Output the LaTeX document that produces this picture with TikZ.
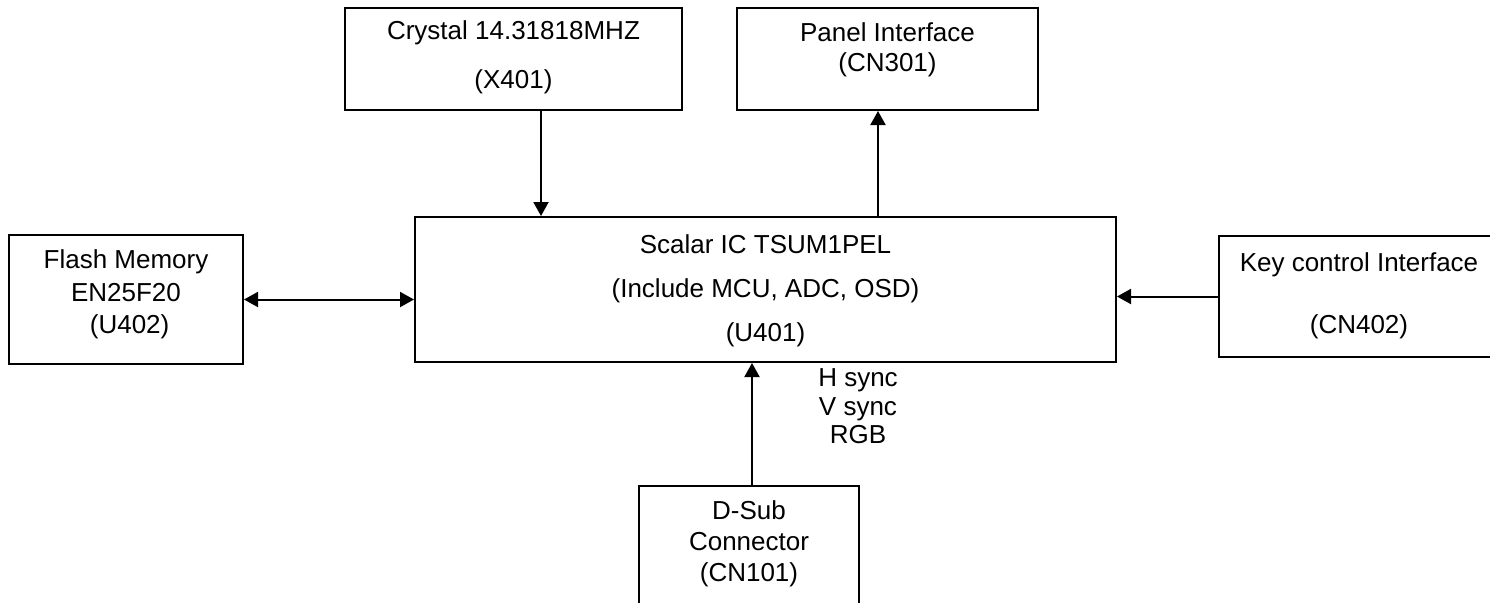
\documentclass[tikz,border=0pt]{standalone}
\usepackage{fontspec}
\setmainfont{Liberation Sans}
\usetikzlibrary{arrows.meta}

\begin{document}
\begin{tikzpicture}[x=0.5pt,y=-0.5pt,
  blk/.style={draw,line width=1pt,inner sep=0pt},
  txt/.style={align=center,font=\fontsize{13}{15}\selectfont,inner sep=0pt},
  arw/.style={line width=1pt,-{Triangle[length=7pt,width=7.5pt]}},
  dblarw/.style={line width=1pt,{Triangle[length=7pt,width=7.5pt]}-{Triangle[length=7pt,width=7.5pt]}}]

\clip (0,0) rectangle (1490,602);

\node[blk,minimum width=168.5pt,minimum height=51pt] (crystal) at (513.5,59) {};
\node[blk,minimum width=150.5pt,minimum height=51pt] (panel) at (887.5,59) {};
\node[blk,minimum width=350.5pt,minimum height=72.5pt] (scalar) at (765.5,289.5) {};
\node[blk,minimum width=117pt,minimum height=64.5pt] (flash) at (126,299.5) {};
\node[blk,minimum width=140pt,minimum height=60.5pt] (key) at (1359,296.5) {};
\node[blk,minimum width=110pt,minimum height=67pt] (dsub) at (749,553) {};

\node[txt] (crystaltxt) at (513.5,57.5) {Crystal 14.31818MHZ\\[9.5pt](X401)};
\node[txt] (paneltxt) at (887.5,50) {Panel Interface\\(CN301)};
\node[txt] (scalartxt) at (765.5,291) {Scalar IC TSUM1PEL\\[7pt](Include MCU, ADC, OSD)\\[7pt](U401)};
\node[txt] (flashtxt) at (126,294.5) {Flash Memory\\[1.25pt]EN25F20\\[1.25pt]\ (U402)};
\node[txt] (keytxt) at (1359,296) {Key control Interface\\[16pt](CN402)};
\node[txt] (dsubtxt) at (749,544) {D-Sub\\[0.5pt]Connector\\[0.5pt](CN101)};
\node[txt] (synctxt) at (858,406.5) {H sync\\[-0.75pt]V sync\\[-0.75pt]RGB};

\coordinate (xa) at (541,0);
\coordinate (xb) at (878,0);
\coordinate (xc) at (752,0);

\draw[arw] (crystal.south -| xa) -- (scalar.north -| xa);
\draw[arw] (scalar.north -| xb) -- (panel.south -| xb);
\draw[dblarw] (flash.east) -- (flash.east -| scalar.west);
\draw[arw] (key.west) -- (key.west -| scalar.east);
\draw[arw] (dsub.north -| xc) -- (scalar.south -| xc);
\end{tikzpicture}
\end{document}
